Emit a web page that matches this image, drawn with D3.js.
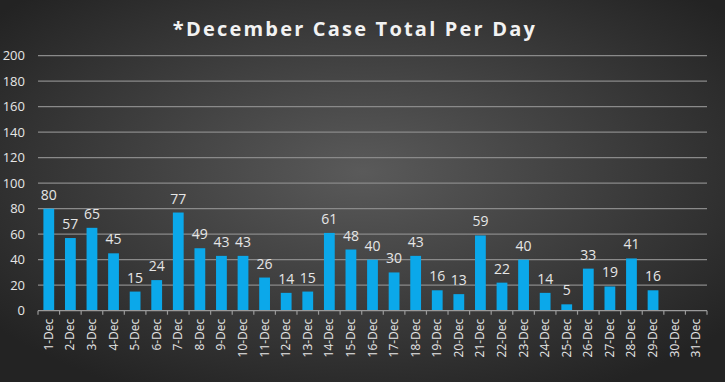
<!DOCTYPE html>
<html><head><meta charset="utf-8">
<script src="https://cdn.jsdelivr.net/npm/d3@7"></script>
<style>body{margin:0;background:#222;}svg{display:block;}</style>
</head><body>
<svg id="c" width="725" height="382"></svg>
<script>
const title = "*December Case Total Per Day";
const days = ["1-Dec","2-Dec","3-Dec","4-Dec","5-Dec","6-Dec","7-Dec","8-Dec","9-Dec","10-Dec","11-Dec","12-Dec","13-Dec","14-Dec","15-Dec","16-Dec","17-Dec","18-Dec","19-Dec","20-Dec","21-Dec","22-Dec","23-Dec","24-Dec","25-Dec","26-Dec","27-Dec","28-Dec","29-Dec","30-Dec","31-Dec"];
const cases = [80,57,65,45,15,24,77,49,43,43,26,14,15,61,48,40,30,43,16,13,59,22,40,14,5,33,19,41,16,null,null];
const yTicks = [0,20,40,60,80,100,120,140,160,180,200];

const W = 725, H = 382;
const svg = d3.select("#c");
const defs = svg.append("defs");
const g = defs.append("radialGradient").attr("id","bg").attr("cx","50%").attr("cy","45%").attr("r","65%");
g.append("stop").attr("offset","0%").attr("stop-color","#5a5a5a");
g.append("stop").attr("offset","100%").attr("stop-color","#232323");
svg.append("rect").attr("width",W).attr("height",H).attr("fill","url(#bg)");

const m = {l:38, r:707, t:55.7, b:310.7};
const x = d3.scaleBand().domain(days).range([m.l, m.r]).paddingInner(0.5).paddingOuter(0.25);
const y = d3.scaleLinear().domain([0,200]).range([m.b, m.t]);

// gridlines
svg.append("g").selectAll("line").data(yTicks.filter(d=>d>0)).join("line")
  .attr("x1",m.l).attr("x2",m.r).attr("y1",d=>y(d)).attr("y2",d=>y(d))
  .attr("stroke","#8a8a8a").attr("stroke-width",1.3);

// y labels
svg.append("g").selectAll("text").data(yTicks).join("text")
  .attr("x",25).attr("y",d=>y(d)).attr("dy","0.35em").attr("text-anchor","end")
  .attr("fill","#e6e6e6").attr("font-family","Open Sans, sans-serif").attr("font-size",13).text(d=>d);

// bars
const data = days.map((d,i)=>({d, v:cases[i]}));
svg.append("g").selectAll("rect").data(data.filter(d=>d.v!=null)).join("rect")
  .attr("x",d=>x(d.d)).attr("width",x.bandwidth()).attr("y",d=>y(d.v)).attr("height",d=>y(0)-y(d.v))
  .attr("fill","#0ba8ea");

// value labels
svg.append("g").selectAll("text").data(data.filter(d=>d.v!=null)).join("text")
  .attr("x",d=>x(d.d)+x.bandwidth()/2).attr("y",d=>y(d.v)-9).attr("text-anchor","middle")
  .attr("fill","#e6e6e6").attr("font-family","Open Sans, sans-serif").attr("font-size",14).text(d=>d.v);

// x axis
const ax = svg.append("g");
ax.append("line").attr("x1",m.l).attr("x2",m.r).attr("y1",y(0)).attr("y2",y(0)).attr("stroke","#9a9a9a").attr("stroke-width",1.3);
ax.selectAll("line.t").data(d3.range(days.length+1)).join("line").attr("class","t")
  .attr("x1",i=>m.l+i*(m.r-m.l)/days.length).attr("x2",i=>m.l+i*(m.r-m.l)/days.length)
  .attr("y1",y(0)).attr("y2",y(0)+4).attr("stroke","#9a9a9a").attr("stroke-width",1.2);
ax.selectAll("text").data(days).join("text")
  .attr("transform",d=>`translate(${x(d)+x.bandwidth()/2+4},${y(0)+8}) rotate(-90)`)
  .attr("text-anchor","end").attr("fill","#e6e6e6").attr("font-family","Open Sans, sans-serif").attr("font-size",12).text(d=>d);

// title
svg.append("text").attr("x",355).attr("y",36).attr("text-anchor","middle")
  .attr("fill","#f2f2f2").attr("font-family","Open Sans, sans-serif").attr("font-weight","bold")
  .attr("font-size",20).attr("letter-spacing",2.2).text(title);
</script>
</body></html>
